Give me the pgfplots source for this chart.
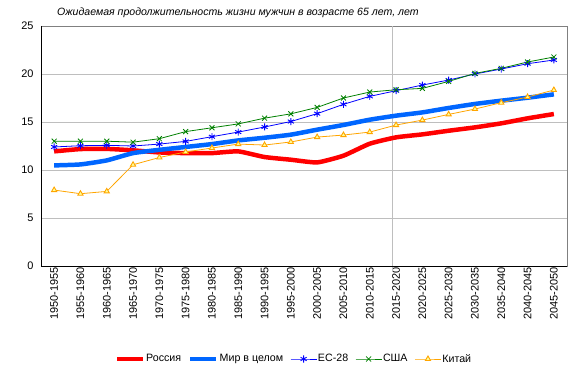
\documentclass[border=0pt]{standalone}
\usepackage{pgfplots}
\pgfplotsset{compat=1.18}
\usepackage{fontspec}
\setmainfont{Liberation Sans}
\usetikzlibrary{plotmarks}
\definecolor{rus}{RGB}{255,0,0}
\definecolor{world}{RGB}{0,102,255}
\definecolor{eu}{RGB}{0,0,255}
\definecolor{usa}{RGB}{0,128,0}
\definecolor{china}{RGB}{255,165,0}
\definecolor{chinafill}{RGB}{255,255,150}
\definecolor{gridc}{RGB}{190,190,190}
\begin{document}
\begin{tikzpicture}
\path[use as bounding box] (0,0) rectangle (580bp,376bp);
\node[anchor=west, inner sep=0pt, font=\fontsize{10.6}{13}\selectfont\itshape] at (57bp,363bp) {Ожидаемая продолжительность жизни мужчин в возрасте 65 лет, лет};
\begin{axis}[
  at={(41bp,110bp)}, anchor=south west,
  scale only axis, width=526bp, height=240bp,
  xmin=-0.5, xmax=19.5, ymin=0, ymax=25,
  ytick={0,5,10,15,20,25},
  xtick={0,...,19},
  xticklabels={1950-1955,1955-1960,1960-1965,1965-1970,1970-1975,1975-1980,1980-1985,1985-1990,1990-1995,1995-2000,2000-2005,2005-2010,2010-2015,2015-2020,2020-2025,2025-2030,2030-2035,2035-2040,2040-2045,2045-2050},
  x tick label style={rotate=90, anchor=east, font=\fontsize{11}{13}\selectfont, inner sep=1bp},
  y tick label style={font=\fontsize{11}{13}\selectfont, xshift=-4bp},
  /pgf/number format/assume math mode=true,
  major tick length=0pt,
  ymajorgrids, grid style={gridc, line width=0.8pt},
  axis line style={draw=gray},
  clip=false,
  legend columns=5,
  legend style={draw=none, fill=none, at={(0.48,-0.3875)}, anchor=center, font=\fontsize{10.7}{13}\selectfont,
    nodes={inner xsep=1bp},
    /tikz/every even column/.append style={column sep=6bp}, inner sep=0pt},
  legend image code/.code={\draw[mark repeat=2,mark phase=2] plot coordinates {(0bp,0bp) (13bp,0bp) (26bp,0bp)};},
]
\draw[gridc, line width=0.8pt] (axis cs:12.87,-0.6) -- (axis cs:12.87,25);
\draw[black, line width=0.8pt] (rel axis cs:0,1) -- (rel axis cs:0,0) -- (rel axis cs:1,0);
\addplot[rus, line width=4.5pt, smooth, tension=0.3, no marks] coordinates {
(0,11.94)(1,12.18)(2,12.2)(3,12.05)(4,11.83)(5,11.76)(6,11.76)(7,11.94)(8,11.35)(9,11.07)(10,10.79)(11,11.49)(12,12.74)(13,13.4)(14,13.71)(15,14.09)(16,14.44)(17,14.86)(18,15.38)(19,15.83)};
\addlegendentry{Россия}
\addplot[world, line width=4.5pt, smooth, tension=0.3, no marks] coordinates {
(0,10.48)(1,10.58)(2,11.0)(3,11.76)(4,12.1)(5,12.4)(6,12.7)(7,13.08)(8,13.36)(9,13.68)(10,14.2)(11,14.69)(12,15.24)(13,15.66)(14,16.0)(15,16.46)(16,16.88)(17,17.22)(18,17.53)(19,17.88)};
\addlegendentry{Мир в целом}
\addplot[eu, line width=0.8pt, mark=asterisk, mark size=3.5bp, mark options={line width=0.9pt}] coordinates {
(0,12.4)(1,12.53)(2,12.57)(3,12.5)(4,12.7)(5,12.98)(6,13.47)(7,13.95)(8,14.48)(9,15.05)(10,15.87)(11,16.84)(12,17.67)(13,18.26)(14,18.85)(15,19.37)(16,20.0)(17,20.52)(18,21.07)(19,21.46)};
\addlegendentry{ЕС-28}
\addplot[usa, line width=0.8pt, mark=x, mark size=3.5bp, mark options={line width=0.8pt}] coordinates {
(0,13.0)(1,13.0)(2,13.0)(3,12.9)(4,13.26)(5,14.0)(6,14.4)(7,14.8)(8,15.4)(9,15.85)(10,16.52)(11,17.5)(12,18.12)(13,18.36)(14,18.5)(15,19.23)(16,20.06)(17,20.59)(18,21.25)(19,21.77)};
\addlegendentry{США}
\addplot[china, line width=0.8pt, mark=triangle*, mark size=3bp, mark options={fill=chinafill, draw=china, line width=0.9pt}] coordinates {
(0,7.91)(1,7.53)(2,7.77)(3,10.55)(4,11.3)(5,11.88)(6,12.29)(7,12.7)(8,12.6)(9,12.92)(10,13.43)(11,13.64)(12,13.95)(13,14.68)(14,15.2)(15,15.79)(16,16.35)(17,17.01)(18,17.6)(19,18.33)};
\addlegendentry{Китай}
\end{axis}
\end{tikzpicture}
\end{document}
